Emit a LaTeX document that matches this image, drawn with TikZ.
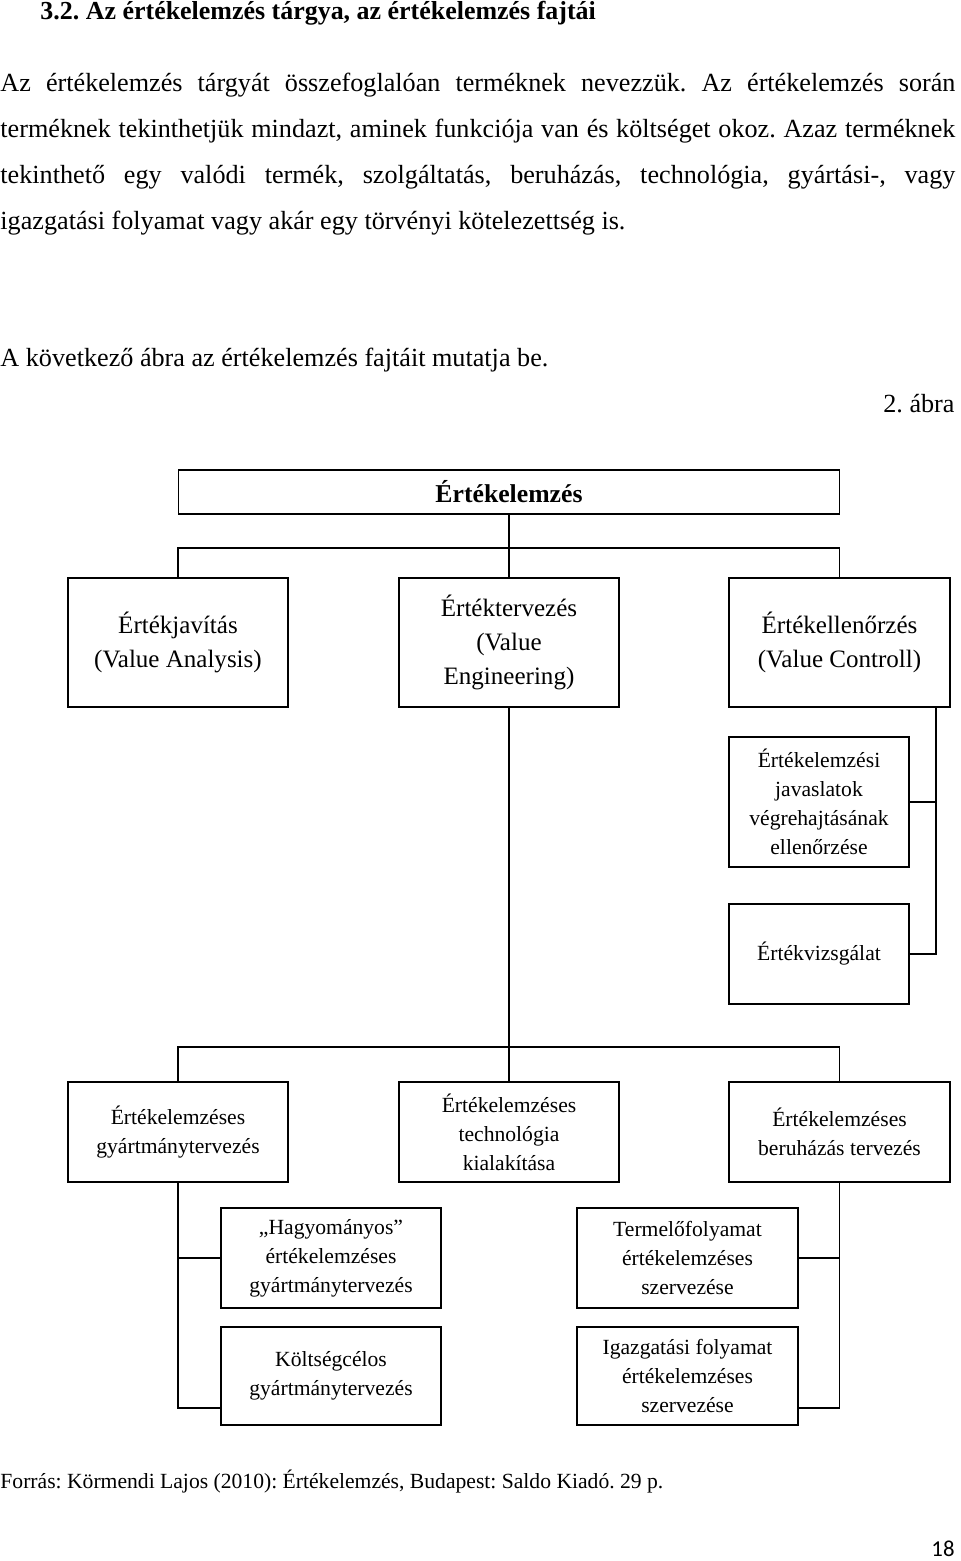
\documentclass[tikz,border=0pt]{standalone}
\usepackage{fontspec}
\setmainfont{Liberation Serif}
\newfontfamily\pagefont{Carlito}
\frenchspacing

\begin{document}
\begin{tikzpicture}
  [x=0.4394pt, y=-0.4394pt, inner sep=0pt,
   body/.style={anchor=base west, font=\fontsize{11.5}{14}\selectfont},
   box/.style={draw=black, line width=0.7pt, align=center},
   topbox/.style={box, font=\bfseries\fontsize{11.3}{14}\selectfont,
                  minimum width=290.4pt, minimum height=19.3pt},
   bigbox/.style={box, font=\fontsize{11}{15}\selectfont,
                  minimum width=96.8pt, minimum height=56.7pt},
   sidebox/.style={box, font=\fontsize{9.5}{12.7}\selectfont, minimum width=79.1pt},
   smallbox/.style={box, font=\fontsize{9.5}{12.8}\selectfont,
                    minimum width=96.8pt, minimum height=43.9pt},
   link/.style={draw=black, line width=0.6pt}]
  \useasboundingbox (0,0) rectangle (960,1561);
  % text of the page
  \node at (40,20) (title) [anchor=base west, font=\bfseries\fontsize{11.4}{14}\selectfont]
    {3.2. Az értékelemzés tárgya, az értékelemzés fajtái};
  \node at (0,92) (par1) [body] {\makebox[419.6pt][s]{Az értékelemzés tárgyát összefoglalóan terméknek nevezzük. Az értékelemzés során}};
  \node at (0,138) (par2) [body] {\makebox[419.6pt][s]{terméknek tekinthetjük mindazt, aminek funkciója van és költséget okoz. Azaz terméknek}};
  \node at (0,184) (par3) [body] {\makebox[419.6pt][s]{tekinthető egy valódi termék, szolgáltatás, beruházás, technológia, gyártási-, vagy}};
  \node at (0,230) (par4) [body] {igazgatási folyamat vagy akár egy törvényi kötelezettség is.};
  \node at (0,366) (intro) [body] {A következő ábra az értékelemzés fajtáit mutatja be.};
  \node at (955,412) (figno) [body, anchor=base east] {2. ábra};
  \node at (0,1488) (source) [body, font=\fontsize{9.5}{12}\selectfont]
    {Forrás: Körmendi Lajos (2010): Értékelemzés, Budapest: Saldo Kiadó. 29 p.};
  \node at (955,1556) (pagenum) [anchor=base east, font=\pagefont\fontsize{10}{12}\selectfont] {18};
  % boxes
  \node at (509,492) (anal) [topbox] {Értékelemzés};
  \node at (178,642.5) (javitas) [bigbox] {Értékjavítás\\(Value Analysis)};
  \node at (509,642.5) (tervezes) [bigbox] {Értéktervezés\\(Value\\Engineering)};
  \node at (839.5,642.5) (ellenorzes) [bigbox, minimum width=97.1pt] {Értékellenőrzés\\(Value Controll)};
  \node at (819,802) (javaslat) [sidebox, minimum height=57.1pt]
    {Értékelemzési\\javaslatok\\végrehajtásának\\ellenőrzése};
  \node at (819,954) (vizsgalat) [sidebox, minimum height=43.9pt] {Értékvizsgálat};
  \node at (178,1132) (gyartmany) [smallbox] {Értékelemzéses\\gyártmánytervezés};
  \node at (509,1132) (technologia) [smallbox] {Értékelemzéses\\technológia\\kialakítása};
  \node at (839.5,1132) (beruhazas) [smallbox, minimum width=97.1pt] {Értékelemzéses\\beruházás tervezés};
  \node at (331,1258) (hagyomanyos) [smallbox] {„Hagyományos”\\értékelemzéses\\gyártmánytervezés};
  \node at (331,1376) (koltseg) [smallbox, minimum height=43.1pt] {Költségcélos\\gyártmánytervezés};
  \node at (687.5,1258) (termelo) [smallbox, minimum width=97.1pt] {Termelőfolyamat\\értékelemzéses\\szervezése};
  \node at (687.5,1376) (igazgatasi) [smallbox, minimum width=97.1pt, minimum height=43.1pt]
    {Igazgatási folyamat\\értékelemzéses\\szervezése};
  % joints
  \coordinate (j1) at (509,548);
  \coordinate (j2) at (509,1047);
  \coordinate (cv) at (936,707);
  \coordinate (jl) at (221,1408);
  \coordinate (jr) at (798,1408);
  % connectors
  \draw [link] (anal) -- (tervezes);
  \draw [link] (javitas.north) |- (j1) -| (ellenorzes.north);
  \draw [link] (tervezes) -- (technologia);
  \draw [link] (gyartmany.north) |- (j2) -| (beruhazas.north);
  \draw [link] (cv) |- (vizsgalat.east);
  \draw [link] (javaslat.east) -- (javaslat.east -| cv);
  \draw [link] (gyartmany.south) |- (jl);
  \draw [link] (hagyomanyos.west) -- (hagyomanyos.west -| gyartmany.south);
  \draw [link] (beruhazas.south) |- (jr);
  \draw [link] (termelo.east) -- (termelo.east -| beruhazas.south);
\end{tikzpicture}
\end{document}
